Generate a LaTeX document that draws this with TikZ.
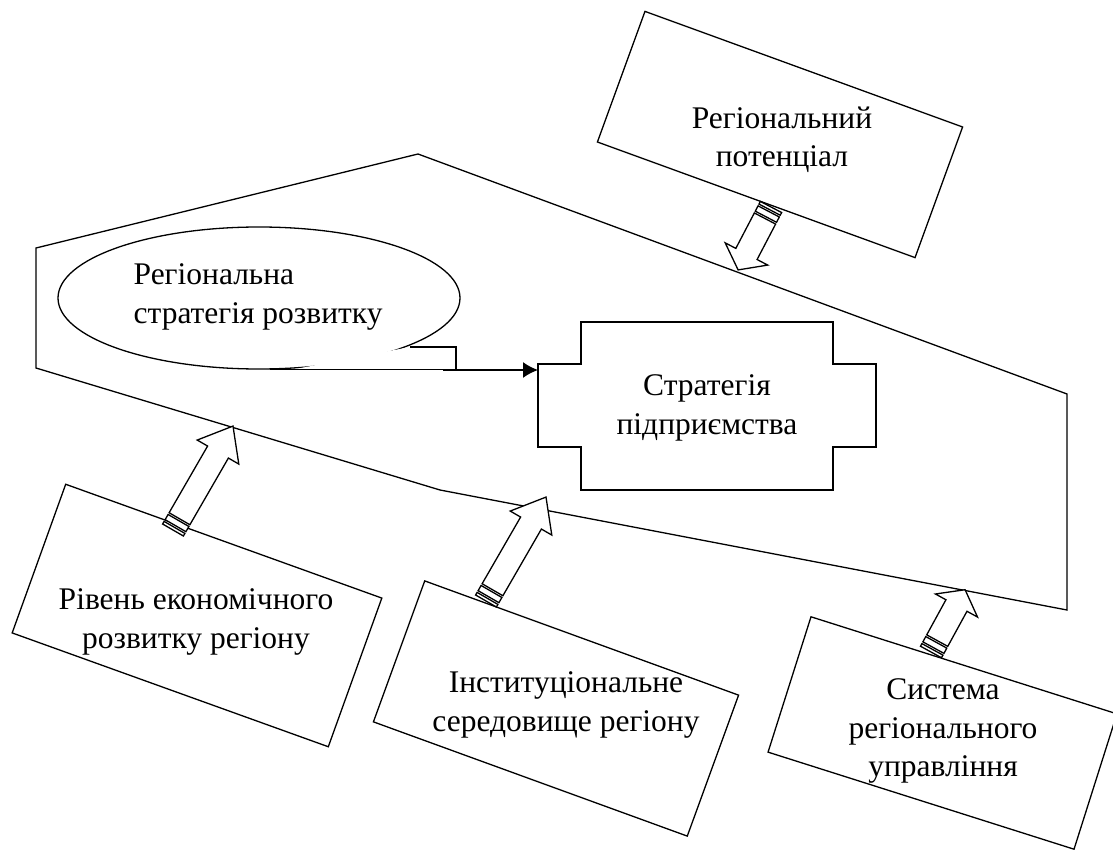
\documentclass[tikz,border=0pt]{standalone}
\usepackage{fontspec}
\setmainfont{Liberation Serif}
\usetikzlibrary{shapes.geometric,arrows.meta}

\tikzset{
  box/.style={draw, fill=white, inner sep=0pt},
  lbl/.style={align=center, inner sep=0pt, font=\fontsize{31.5}{38.5}\selectfont},
  pics/stripedarrow/.style 2 args={code={
    \draw[fill=white] (0,-12) rectangle (3,12);
    \draw[fill=white] (5,-12) rectangle (11,12);
    \draw[fill=white] (13,-12) -- ({#1-#2},-12) -- ({#1-#2},-24) -- (#1,0)
      -- ({#1-#2},24) -- ({#1-#2},12) -- (13,12) -- cycle;
  }}
}

\begin{document}
\begin{tikzpicture}[x=1pt, y=-1pt, line width=1.3pt]
\useasboundingbox (0,0) rectangle (1113,850);

% region outline
\draw (36,248) -- (418,154) -- (1067,394) -- (1067,610) -- (440,490) -- (36,368) -- cycle;

% callout
\node[draw, ellipse, minimum width=402, minimum height=142, inner sep=0pt] (rsr) at (259,298) {};
\fill[white] (410,347) -- (456,347) -- (456,371) -- (285,371) -- cycle;
\draw (410,347) -- (456,347) -- (456,369.5) -- (270,369.5);
\node[lbl, align=left, anchor=west] (rsrT) at (133,297) {Регіональна\\стратегія розвитку};

% enterprise strategy
\draw (581,322) -- (833,322) -- (833,364) -- (876,364) -- (876,447) -- (833,447)
  -- (833,490) -- (581,490) -- (581,447) -- (538,447) -- (538,364) -- (581,364) -- cycle;
\node[lbl] (strat) at (707,408) {Стратегія\\підприємства};
\coordinate (tab) at (443,370);
\coordinate (stratIn) at (538,370);
\draw[-{Latex[length=15pt,width=16pt]}, line width=1.6pt] (tab) -- (stratIn);

% factor boxes
\node[box, rotate=-20, minimum width=338, minimum height=139] (pot) at (780,134.5) {};
\node[lbl] (potT) at (782,140) {Регіональний\\потенціал};
\node[box, rotate=-19.8, minimum width=336, minimum height=158] (riv) at (197,615.5) {};
\node[lbl] (rivT) at (196,622) {Рівень економічного\\розвитку регіону};
\node[box, rotate=-20, minimum width=334, minimum height=150] (inst) at (556,708.5) {};
\node[lbl] (instT) at (566,705) {Інституціональне\\середовище регіону};
\node[box, rotate=-17.6, minimum width=321, minimum height=142] (sys) at (942.5,733) {};
\node[lbl] (sysT) at (943,731) {Система\\регіонального\\управління};

% block arrows
\pic[rotate=-117.6] at (771,207) {stripedarrow={71}{18}};
\pic[rotate=60] at (173,530) {stripedarrow={120}{30}};
\pic[rotate=60] at (486,601) {stripedarrow={120}{30}};
\pic[rotate=61.3] at (931,652) {stripedarrow={71}{18}};
\end{tikzpicture}
\end{document}
